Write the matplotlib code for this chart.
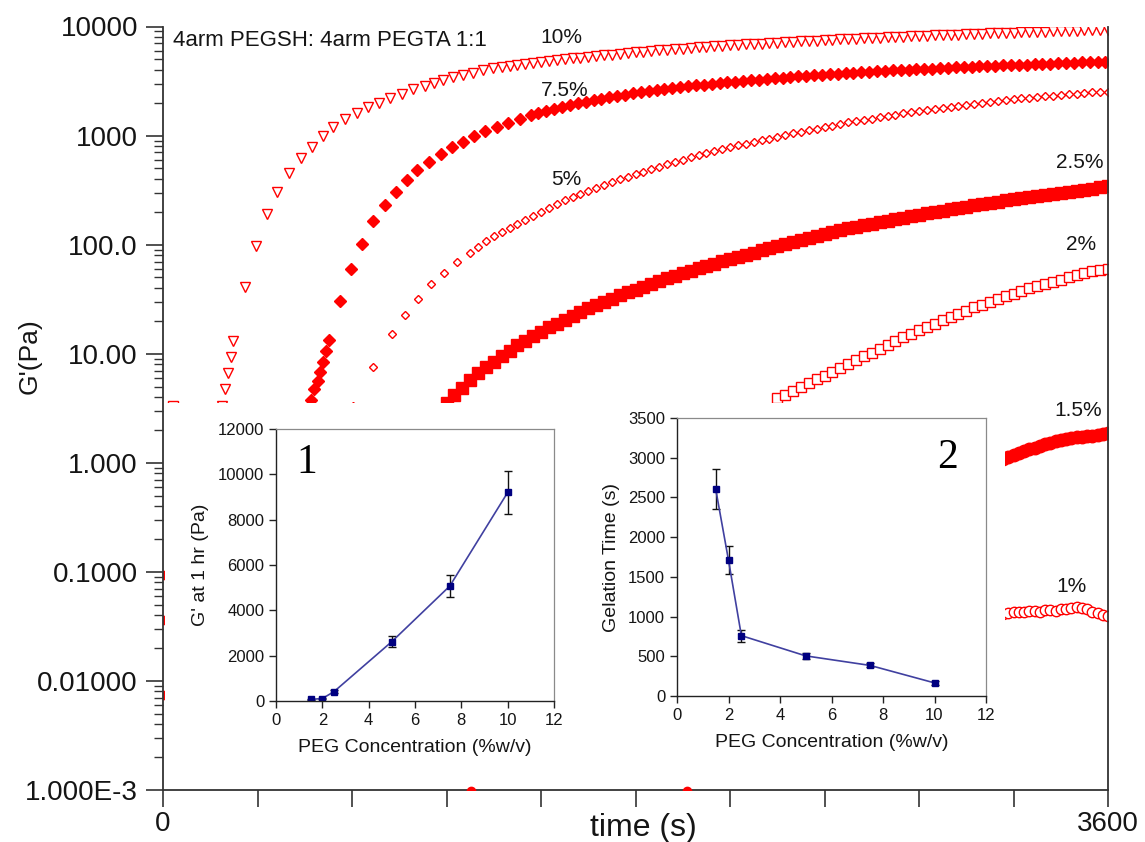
import numpy as np
import matplotlib.pyplot as plt
from matplotlib.patches import Rectangle
from matplotlib.ticker import LogLocator, NullFormatter

plt.rcParams['font.family'] = ['Liberation Sans', 'DejaVu Sans']

RED = '#ff0000'
TXT = '#151515'

# ---- time sweep, G' (Pa) vs time (s) ----
# 10 % : open triangles, early points then 30 s sampling
t10_a = [226, 237, 246, 258, 268, 312, 353, 395, 434, 480, 525, 566, 608, 648, 693,
         738, 781, 823, 865, 909, 952, 998, 1032, 1067, 1105, 1143, 1181, 1219, 1257]
g10_a = [3.3, 4.7, 6.6, 9.4, 13.2, 40.5, 98, 191, 304, 454, 623, 787, 992, 1199, 1420,
         1611, 1829, 1990, 2212, 2407, 2675, 2850, 3035, 3235, 3445, 3593, 3747, 3993, 4166]
g10_b = [4270, 4365, 4460, 4555, 4650, 4740, 4830, 4920, 5010, 5100,
         5185, 5270, 5355, 5440, 5525, 5610, 5695, 5780, 5865, 5950,
         6030, 6110, 6190, 6270, 6350, 6425, 6500, 6570, 6640, 6710,
         6780, 6850, 6915, 6980, 7045, 7110, 7175, 7240, 7305, 7370,
         7430, 7490, 7550, 7610, 7670, 7730, 7790, 7850, 7905, 7960,
         8015, 8070, 8125, 8180, 8230, 8280, 8330, 8380, 8430, 8480,
         8530, 8580, 8630, 8680, 8730, 8780, 8830, 8880, 8930, 8980,
         9030, 9080, 9130, 9180, 9230, 9280, 9330, 9380]

# 7.5 % : filled diamonds
t75_a = [564, 575, 589, 598, 610, 620, 634, 675, 716, 757, 801, 846, 888, 928, 969,
         1014, 1058, 1101, 1142, 1185, 1227, 1271, 1315, 1360, 1401]
g75_a = [3.77, 4.73, 5.67, 6.85, 8.47, 10.6, 13.4, 30.5, 60, 101, 163, 231, 306, 392, 484,
         577, 678, 791, 873, 991, 1102, 1207, 1297, 1429, 1535]
g75_b = [1610, 1690, 1765, 1840, 1910, 1980, 2050, 2120, 2185, 2250,
         2315, 2375, 2435, 2495, 2555, 2615, 2670, 2725, 2780, 2835,
         2885, 2935, 2985, 3035, 3080, 3125, 3170, 3215, 3260, 3305,
         3350, 3395, 3440, 3485, 3525, 3565, 3605, 3645, 3685, 3725,
         3765, 3805, 3845, 3880, 3915, 3950, 3985, 4020, 4055, 4090,
         4120, 4150, 4180, 4210, 4240, 4270, 4300, 4330, 4360, 4390,
         4420, 4450, 4480, 4510, 4540, 4570, 4600, 4630, 4655, 4680,
         4705, 4730, 4755]

# 5 % : open diamonds
t5_a = [724, 799, 873, 922, 973, 1021, 1070, 1119, 1169]
g5_a = [3.3, 7.5, 15.1, 22.7, 31.8, 43.4, 55.4, 69.8, 84.5]
g5_b = [95, 108, 119, 130, 141, 154, 168, 183, 199, 216,
        235, 254, 272, 291, 312, 331, 352, 373, 396, 419,
        442, 466, 492, 519, 545, 571, 600, 630, 658, 687,
        718, 750, 780, 811, 841, 873, 906, 940, 977, 1014,
        1052, 1086, 1122, 1159, 1197, 1236, 1276, 1318, 1355, 1393,
        1432, 1472, 1514, 1556, 1600, 1637, 1675, 1714, 1754, 1795,
        1837, 1879, 1919, 1959, 2000, 2042, 2080, 2118, 2153, 2188,
        2223, 2259, 2296, 2328, 2360, 2393, 2427, 2455, 2483, 2512,
        2535]

# 2.5 % : filled squares
g25 = [3.55, 4.17, 4.90, 5.75, 6.61, 7.50, 8.41, 9.44, 10.6, 11.9,
       13.2, 14.5, 15.8, 17.4, 18.8, 20.4, 22.1, 24.0, 26.0, 27.9,
       29.9, 32.0, 34.3, 36.5, 38.7, 41.1, 43.7, 46.3, 49.0, 51.8,
       54.7, 57.5, 60.5, 63.7, 66.8, 70.1, 73.6, 77.3, 80.9, 84.7,
       88.5, 92.5, 96.6, 101, 106, 110, 115, 120, 125, 130,
       136, 141, 146, 150, 155, 160, 166, 171, 177, 182,
       188, 194, 199, 205, 210, 216, 222, 229, 235, 242,
       248, 254, 260, 266, 272, 279, 285, 292, 299, 305,
       313, 320, 327, 335, 343]

# 2 % : open squares
g2 = [3.89, 4.22, 4.57, 4.95, 5.37, 5.82, 6.31, 6.84, 7.41, 8.04,
      8.71, 9.44, 10.2, 11.1, 12.0, 13.0, 14.1, 15.3, 16.4, 17.6,
      18.8, 20.2, 21.6, 23.2, 24.8, 26.6, 28.2, 29.9, 31.6, 33.5,
      35.5, 37.6, 39.8, 41.7, 43.7, 45.7, 47.9, 50.1, 52.5, 55.0,
      56.9, 58.9, 60.3]

# 1.5 % : filled circles
g15 = [1.08, 1.13, 1.18, 1.23, 1.28, 1.33, 1.38, 1.43, 1.48, 1.53, 1.57,
       1.61, 1.65, 1.68, 1.71, 1.73, 1.75, 1.77, 1.80, 1.83, 1.87]

# 1 % : open circles
g1 = [0.0415, 0.0418, 0.0425, 0.0430, 0.0428, 0.0435, 0.0440, 0.0433, 0.0445, 0.0449,
      0.0440, 0.0452, 0.0460, 0.0470, 0.0481, 0.0470, 0.0455, 0.0430, 0.0420, 0.0405, 0.0390]

# stray first points on the axes
t_edge = [0, 0, 0]
g_edge = [0.093, 0.036, 0.0074]
t_low = [1173, 1996]
g_low = [0.00098, 0.00098]
t_early = [38]
g_early = [3.3]

# ---- insets ----
conc = [1.5, 2, 2.5, 5, 7.5, 10]
g_1hr = [70, 110, 410, 2620, 5070, 9200]
g_1hr_err = [30, 40, 60, 250, 500, 950]
gel_time = [2610, 1710, 760, 505, 385, 165]
gel_time_err = [250, 180, 75, 35, 25, 25]


fig = plt.figure(figsize=(11.45, 8.42), dpi=100)
ax = fig.add_axes([163/1145, 52/842, 945/1145, 763.5/842])

ax.plot(t10_a, g10_a, 'v', ms=7.5, mfc='white', mec=RED, mew=1.0, ls='none')
ax.plot(1290 + 30*np.arange(len(g10_b)), g10_b, 'v', ms=7.5, mfc='white', mec=RED, mew=1.0, ls='none')
ax.plot(t75_a, g75_a, 'D', ms=6, color=RED, ls='none')
ax.plot(1430 + 30*np.arange(len(g75_b)), g75_b, 'D', ms=6, color=RED, ls='none')
ax.plot(t5_a, g5_a, 'D', ms=4.2, mfc='white', mec=RED, mew=1.0, ls='none')
ax.plot(1200 + 30*np.arange(len(g5_b)), g5_b, 'D', ms=4.2, mfc='white', mec=RED, mew=1.0, ls='none')
ax.plot(1080 + 30*np.arange(len(g25)), g25, 's', ms=8.5, color=RED, ls='none')
ax.plot(2340 + 30*np.arange(len(g2)), g2, 's', ms=6.5, mfc='white', mec=RED, mew=1.0, ls='none')
ax.plot(3200 + 20*np.arange(len(g15)), g15, 'o', ms=9, color=RED, ls='none')
ax.plot(3200 + 20*np.arange(len(g1)), g1, 'o', ms=7.5, mfc='white', mec=RED, mew=1.0, ls='none')
ax.plot(t_edge, g_edge, 'o', ms=6, color=RED, ls='none')
ax.plot(t_early, g_early, 's', ms=6.5, mfc='white', mec=RED, mew=1.0, ls='none')

# white panel that the two inset graphs sit on
ax.add_patch(Rectangle((2/945, 3/763.5), (1005-165)/945, (787-403)/763.5,
                       transform=ax.transAxes, facecolor='white', edgecolor='none', zorder=3))
ax.plot(t_low, g_low, 'o', ms=6, color=RED, ls='none', zorder=4)

ax.set_xlim(0, 3600)
ax.set_yscale('log')
ax.set_ylim(1e-3, 1e4)

for s in ['left', 'bottom', 'right']:
    ax.spines[s].set_color('#333333')
    ax.spines[s].set_linewidth(1.3)
ax.spines['top'].set_visible(False)

xt = np.arange(0, 3601, 360)
ax.set_xticks(xt)
ax.set_xticklabels(['0'] + ['']*(len(xt)-2) + ['3600'])
ax.set_yticks([1e-3, 1e-2, 1e-1, 1, 10, 100, 1000, 1e4])
ax.set_yticklabels(['1.000E-3', '0.01000', '0.1000', '1.000', '10.00', '100.0', '1000', '10000'])
ax.yaxis.set_minor_locator(LogLocator(base=10, subs=np.arange(2, 10)))
ax.yaxis.set_minor_formatter(NullFormatter())
ax.tick_params(axis='both', which='major', direction='out', length=12, width=1.2,
               labelsize=20, colors='#333333', labelcolor=TXT)
ax.tick_params(axis='y', which='major', pad=6)
ax.tick_params(axis='x', which='major', pad=3)
ax.tick_params(axis='y', which='minor', direction='out', length=6.5, width=1.0, colors='#333333')
ax.tick_params(right=False, top=False)

fig.text(30/1145, 1-356/842, "G'(Pa)", rotation=90, ha='center', va='center', fontsize=19, color=TXT)
fig.text(643/1145, 1-828/842, "time (s)", ha='center', va='center', fontsize=23, color=TXT)

fig.text(173/1145, 1-40/842, "4arm PEGSH: 4arm PEGTA 1:1", ha='left', va='center', fontsize=16, color=TXT)
for lab, px, py in [('10%', 561, 37.5), ('7.5%', 565, 90), ('5%', 566, 179.5), ('2.5%', 1080, 162),
                    ('2%', 1081, 245), ('1.5%', 1078, 410), ('1%', 1072, 586.5)]:
    fig.text(px/1145, 1-py/842, lab, ha='center', va='center', fontsize=15, color=TXT)


def style_inset(a):
    for s in ['left', 'bottom']:
        a.spines[s].set_color('#222222')
        a.spines[s].set_linewidth(1.0)
    for s in ['top', 'right']:
        a.spines[s].set_color('#8a8a8a')
        a.spines[s].set_linewidth(0.9)
    a.tick_params(direction='out', length=5, width=1, labelsize=12, colors='#222222', labelcolor=TXT)
    a.tick_params(top=False, right=False)
    a.set_xlim(0, 12)
    a.set_xticks(np.arange(0, 13, 2))
    a.set_xlabel('PEG Concentration (%w/v)', fontsize=14, color=TXT, labelpad=8)


# inset 1: G' after one hour
ax1 = fig.add_axes([276/1145, 141/842, 278/1145, 272/842], zorder=5)
ax1.errorbar(conc, g_1hr, yerr=g_1hr_err, fmt='-s', color='#4040a0', lw=1.2, ms=5,
             mfc='#000080', mec='#000080', ecolor='#111111', elinewidth=1, capsize=3)
ax1.set_ylim(0, 12000)
ax1.set_yticks(np.arange(0, 12001, 2000))
style_inset(ax1)
ax1.set_ylabel("G' at 1 hr (Pa)", fontsize=14, color=TXT, labelpad=6)
ax1.text(0.11, 0.875, '1', transform=ax1.transAxes, ha='center', va='center',
         fontsize=30, family='Liberation Serif', color='black')

# inset 2: gelation time
ax2 = fig.add_axes([677/1145, 146/842, 309/1145, 278/842], zorder=5)
ax2.errorbar(conc, gel_time, yerr=gel_time_err, fmt='-s', color='#4040a0', lw=1.2, ms=5,
             mfc='#000080', mec='#000080', ecolor='#111111', elinewidth=1, capsize=3)
ax2.set_ylim(0, 3500)
ax2.set_yticks(np.arange(0, 3501, 500))
style_inset(ax2)
ax2.set_ylabel('Gelation Time (s)', fontsize=14, color=TXT, labelpad=6)
ax2.text(0.874, 0.856, '2', transform=ax2.transAxes, ha='center', va='center',
         fontsize=30, family='Liberation Serif', color='black')

plt.savefig('out.png', dpi=100)
